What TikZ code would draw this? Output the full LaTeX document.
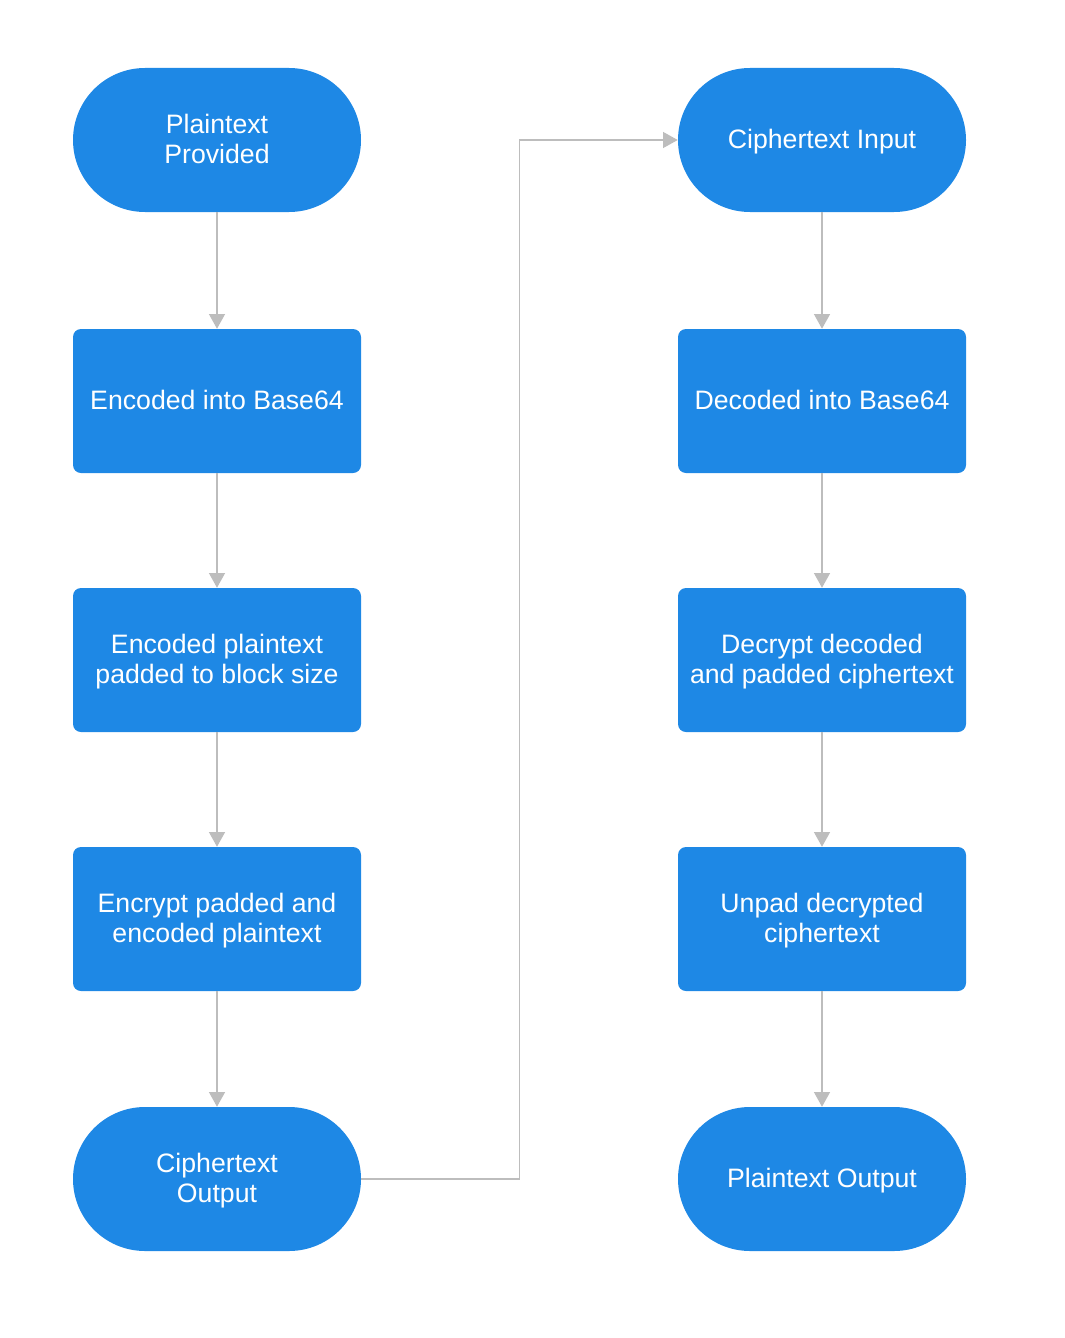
\documentclass[tikz,border=0pt]{standalone}
\usepackage{fontspec}
\setmainfont{Liberation Sans}
\usepackage{xcolor}
\usetikzlibrary{arrows.meta, positioning}

\definecolor{boxblue}{HTML}{1E88E5}
\definecolor{linegray}{HTML}{BDBDBD}

\tikzset{
  block/.style={rectangle, rounded corners=6pt, fill=boxblue, text=white,
    minimum width=216pt, minimum height=108pt, inner sep=0pt, align=center,
    text depth=1.5pt, font=\fontsize{20}{22.5}\selectfont},
  term/.style={block, rounded corners=54pt}
}

\begin{document}
\begin{tikzpicture}[x=0.75pt,y=-0.75pt,>={Triangle[length=11pt,width=12pt]},
    every edge/.style={draw=linegray, line width=0.9pt}]
        \useasboundingbox (0,0) rectangle (1064,1338);
        % encryption side
        \node[term](plain_in) at (217,140) {Plaintext\\ Provided};
        \node[block](enc_b64) at (217,401) {Encoded into Base64};
        \node[block](pad) at (217,660) {Encoded plaintext\\ padded to block size};
        \node[block](encrypt) at (217,919) {Encrypt padded and\\ encoded plaintext};
        \node[term](cipher_out) at (217,1179) {Ciphertext\\ Output};
        % decryption side
        \node[term](cipher_in) at (822,140) {Ciphertext Input};
        \node[block](dec_b64) at (822,401) {Decoded into Base64};
        \node[block](decrypt) at (822,660) {Decrypt decoded\\ and padded ciphertext};
        \node[block](unpad) at (822,919) {Unpad decrypted\\ ciphertext};
        \node[term](plain_out) at (822,1179) {Plaintext Output};
        \path[->](plain_in)	edge	(enc_b64)
        		(enc_b64)	edge	(pad)
        		(pad)		edge	(encrypt)
        		(encrypt)	edge	(cipher_out)
        		(cipher_in)	edge	(dec_b64)
        		(dec_b64)	edge	(decrypt)
        		(decrypt)	edge	(unpad)
        		(unpad)		edge	(plain_out);
        \draw[->, draw=linegray, line width=0.9pt] (cipher_out.east) -- ++(158,0) |- (cipher_in.west);
    \end{tikzpicture}
\end{document}
